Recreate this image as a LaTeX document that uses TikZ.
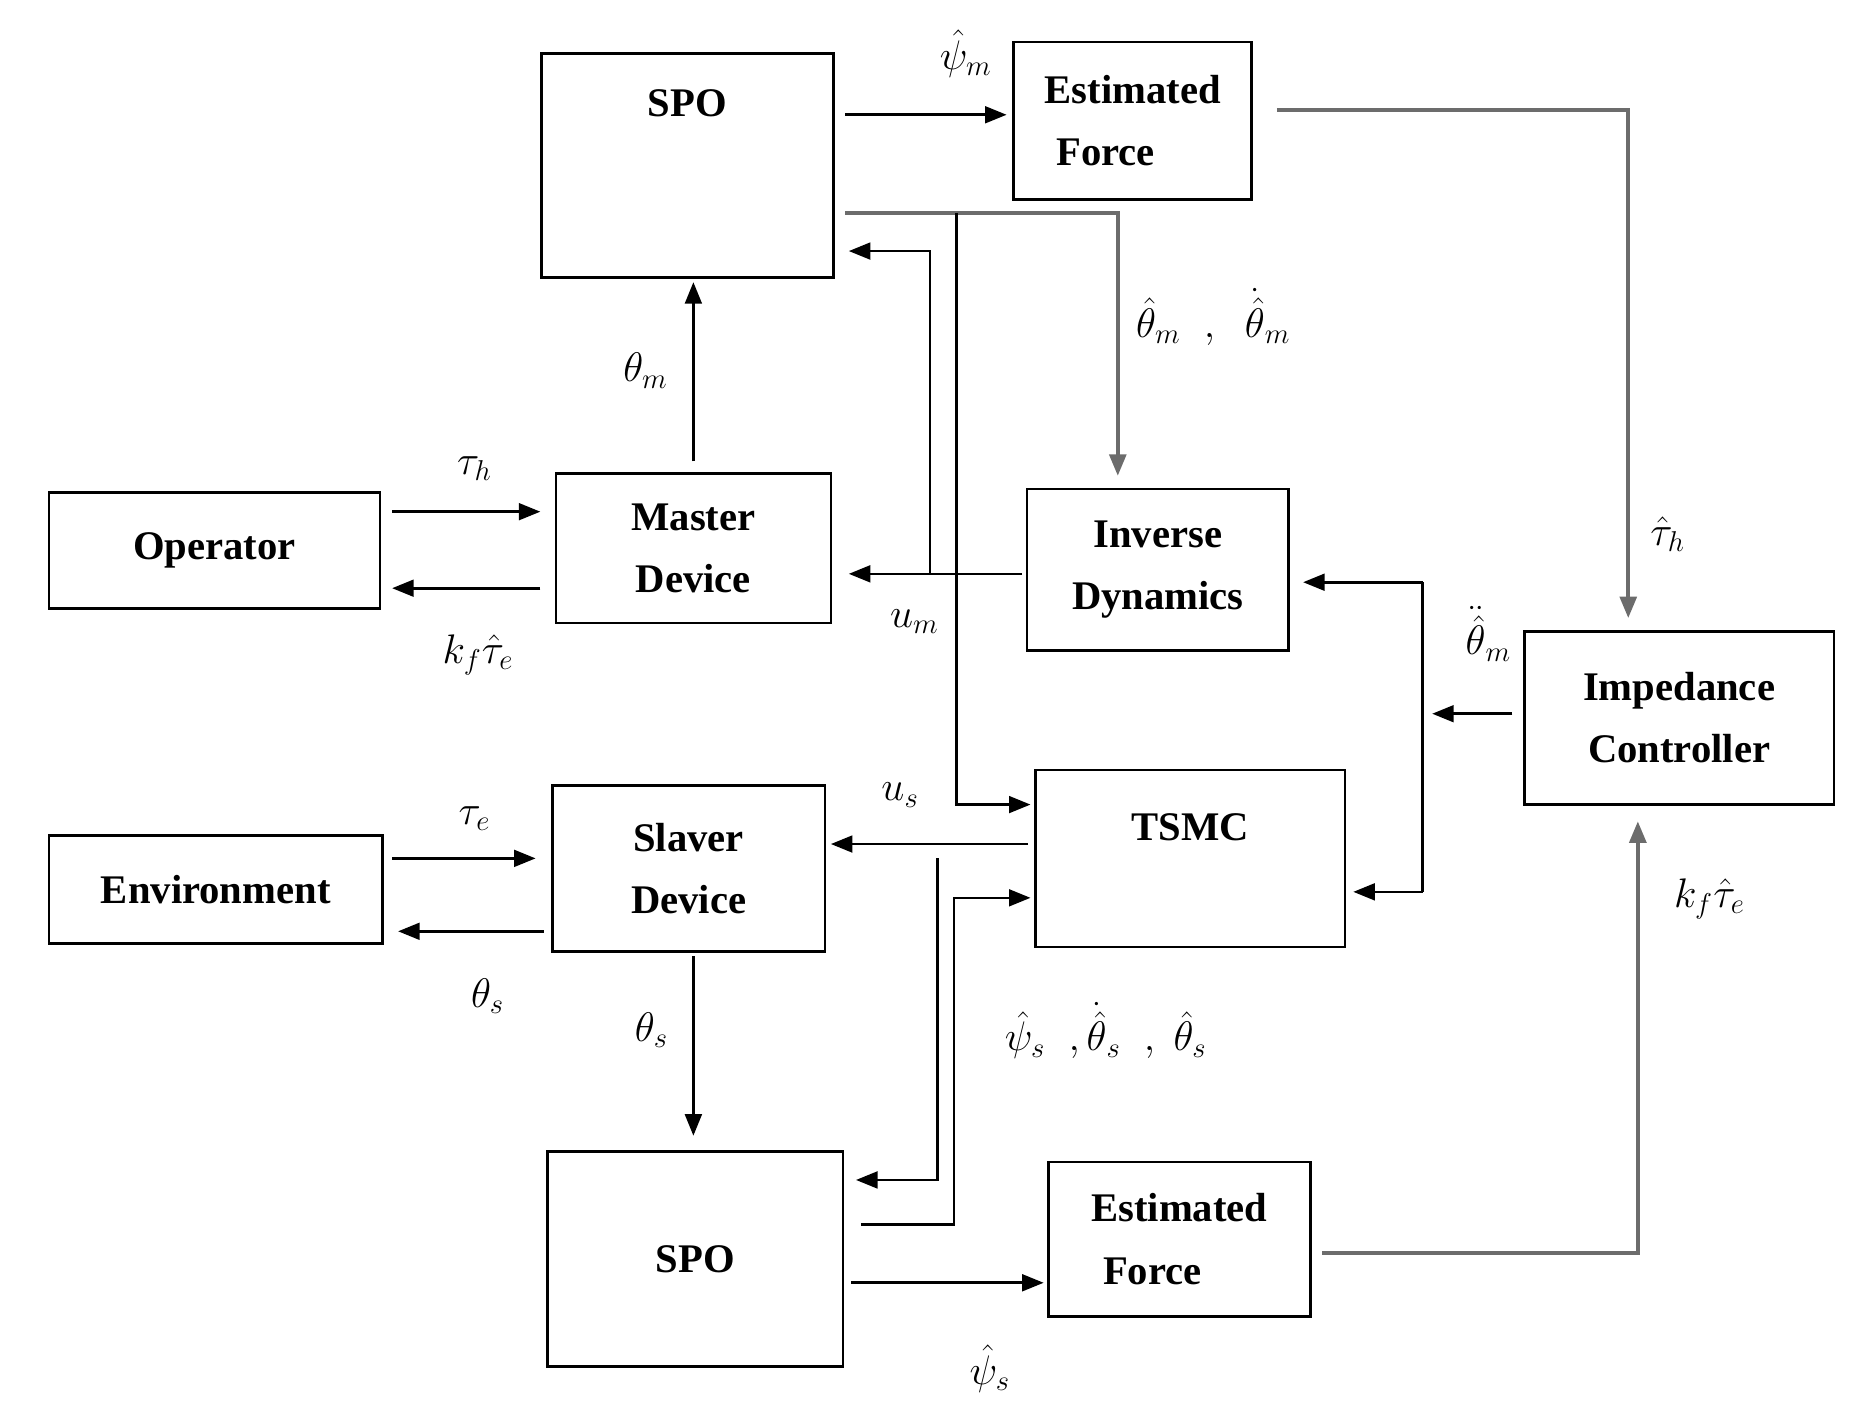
\documentclass[tikz,border=0pt]{standalone}
\usepackage{fontspec}
\setmainfont{Liberation Serif}
\usetikzlibrary{arrows.meta}
\begin{document}
\begin{tikzpicture}[x=0.5pt,y=-0.5pt,
  box/.style={draw,line width=1.1pt,inner sep=0pt,align=center,font=\fontsize{17}{26}\selectfont\bfseries},
  arr/.style={line width=1.1pt,-{Triangle[length=9pt,width=7pt]}},
  gar/.style={arr,draw=gray!85!black,line width=1.6pt},
  lab/.style={font=\fontsize{18}{20}\selectfont}]
\useasboundingbox (0,0) rectangle (1555,1190);
\newcommand\bx[6]{\node[box,minimum width=#4*0.5pt-#2*0.5pt,minimum height=#5*0.5pt-#3*0.5pt] (#1) at ({(#2+#4)/2},{(#3+#5)/2}) {#6};}
\bx{spo1}{453}{45}{697}{232}{SPO\\\phantom{S}\\\phantom{S}}
\bx{ef1}{848}{35}{1047}{167}{Estimated\\Force\phantom{ted}}
\bx{op}{41}{412}{318}{509}{Operator}
\bx{md}{465}{396}{695}{521}{Master\\Device}
\bx{id}{859}{409}{1078}{544}{Inverse\\Dynamics}
\bx{ic}{1275}{528}{1534}{673}{Impedance\\Controller}
\bx{env}{41}{699}{320}{789}{Environment}
\bx{sd}{462}{657}{690}{796}{Slaver\\Device}
\bx{ts}{866}{644}{1125}{792}{TSMC\\\phantom{S}}
\bx{spo2}{458}{963}{705}{1143}{SPO}
\bx{ef2}{877}{972}{1096}{1101}{Estimated\\Force\phantom{ted}}
\draw[arr] (707,96) -- (842,96);
\node[lab] at (808,45) {$\hat\psi_m$};
\draw[gar] (1068,92) -- (1362,92) -- (1362,517);
\node[lab] at (1395,447) {$\hat\tau_h$};
\draw[gar] (707,178) -- (935,178) -- (935,398);
\node[lab] at (1015,265) {$\hat\theta_m\;\;,\;\;\dot{\hat\theta}_m$};
\draw[arr] (800,178) -- (800,673) -- (862,673);
\draw[arr] (855,480) -- (710,480);
\draw[arr] (778,480) -- (778,210) -- (710,210);
\node[lab] at (765,520) {$u_m$};
\draw[arr] (580,386) -- (580,236);
\node[lab] at (540,310) {$\theta_m$};
\draw[arr] (328,428) -- (452,428);
\node[lab] at (397,392) {$\tau_h$};
\draw[arr] (452,492) -- (328,492);
\node[lab] at (400,548) {$k_f\hat\tau_e$};
\draw[arr] (1265,597) -- (1198,597);
\draw[arr] (1190,487) -- (1090,487);
\draw[line width=1.1pt] (1190,487) -- (1190,746);
\draw[arr] (1190,746) -- (1132,746);
\node[lab] at (1245,530) {$\ddot{\hat\theta}_m$};
\draw[arr] (860,706) -- (695,706);
\node[lab] at (753,665) {$u_s$};
\draw[arr] (784,718) -- (784,987) -- (716,987);
\draw[arr] (720,1024) -- (798,1024) -- (798,751) -- (862,751);
\node[lab] at (925,862) {$\hat\psi_s\;\;,\dot{\hat\theta}_s\;\;,\;\hat\theta_s$};
\draw[arr] (328,718) -- (448,718);
\node[lab] at (397,685) {$\tau_e$};
\draw[arr] (455,779) -- (333,779);
\node[lab] at (408,833) {$\theta_s$};
\draw[arr] (580,800) -- (580,950);
\node[lab] at (545,862) {$\theta_s$};
\draw[arr] (712,1073) -- (873,1073);
\node[lab] at (828,1145) {$\hat\psi_s$};
\draw[gar] (1106,1048) -- (1370,1048) -- (1370,687);
\node[lab] at (1430,752) {$k_f\hat\tau_e$};
\end{tikzpicture}
\end{document}
